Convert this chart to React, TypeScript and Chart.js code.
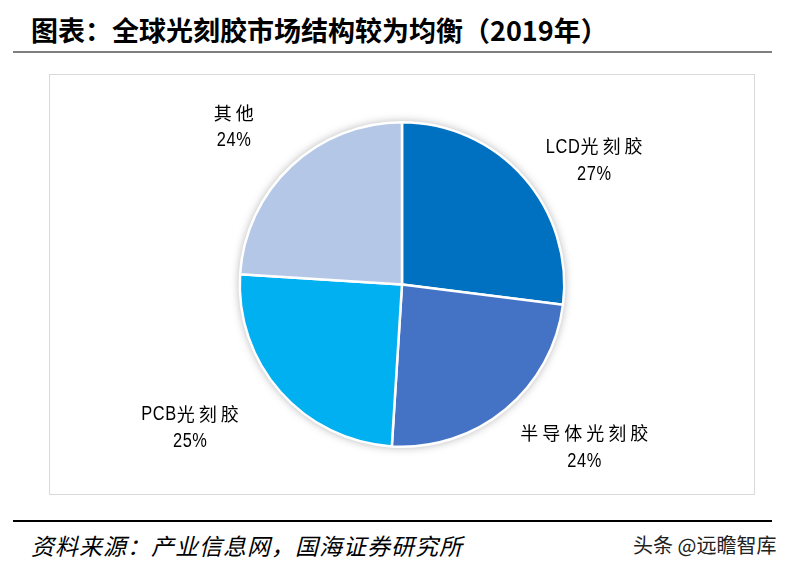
import React, { useEffect, useRef } from "react";
import { Chart, registerables } from "chart.js";

Chart.register(...registerables);

const titleText = "图表：全球光刻胶市场结构较为均衡（2019年）";
const sourceText = "资料来源：产业信息网，国海证券研究所";
const watermarkText = "头条 @远瞻智库";

const categories = ["LCD光刻胶", "半导体光刻胶", "PCB光刻胶", "其他"];
const shares = [27, 24, 25, 24];
const sliceColors = ["#0070C0", "#4472C4", "#00B0F0", "#B4C7E7"];

// label block centre, relative to pie centre, in units of the pie radius
const LABEL_OFFSETS: [number, number][] = [
  [1.184, -0.77],
  [1.123, 1.0],
  [-1.307, 0.88],
  [-1.037, -0.975],
];

function isCJK(ch: string) {
  return /[\u3000-\u9fff\uff00-\uffef]/.test(ch);
}

function drawMixed(ctx: CanvasRenderingContext2D, text: string, cx: number, cy: number) {
  const cjkFont = "18px 'Noto Sans CJK SC', sans-serif";
  const latFont = "20px 'Liberation Sans', Arial, sans-serif";
  const SX = 0.82;
  const parts = [...text].map((ch) => {
    const cjk = isCJK(ch);
    ctx.font = cjk ? cjkFont : latFont;
    const w = ctx.measureText(ch).width * (cjk ? 1 : SX);
    return { ch, cjk, w, gap: cjk ? 4 : 0.6 };
  });
  let total = 0;
  parts.forEach((p, i) => {
    total += p.w + (i < parts.length - 1 ? p.gap : 0);
  });
  let x = cx - total / 2;
  ctx.save();
  ctx.fillStyle = "#000";
  ctx.textBaseline = "middle";
  ctx.textAlign = "left";
  for (const p of parts) {
    if (p.cjk) {
      ctx.font = cjkFont;
      ctx.fillText(p.ch, x, cy);
    } else {
      ctx.font = latFont;
      ctx.save();
      ctx.translate(x, cy);
      ctx.scale(SX, 1);
      ctx.fillText(p.ch, 0, 1);
      ctx.restore();
    }
    x += p.w + p.gap;
  }
  ctx.restore();
}

const shadowPlugin = {
  id: "pieShadow",
  beforeDatasetsDraw(chart: any) {
    const arc = chart.getDatasetMeta(0).data[0];
    if (!arc) return;
    const { x, y, outerRadius } = arc.getProps(["x", "y", "outerRadius"], true);
    const ctx = chart.ctx;
    ctx.save();
    ctx.shadowColor = "rgba(0,0,0,0.35)";
    ctx.shadowBlur = 10;
    ctx.fillStyle = "#fff";
    ctx.beginPath();
    ctx.arc(x, y, outerRadius, 0, Math.PI * 2);
    ctx.fill();
    ctx.restore();
  },
};

const labelPlugin = {
  id: "pieLabels",
  afterDatasetsDraw(chart: any) {
    const meta = chart.getDatasetMeta(0);
    const ctx = chart.ctx;
    const total = shares.reduce((a, b) => a + b, 0);
    meta.data.forEach((arc: any, i: number) => {
      const { x, y, outerRadius } = arc.getProps(["x", "y", "outerRadius"], true);
      const [ox, oy] = LABEL_OFFSETS[i];
      const cx = x + ox * outerRadius;
      const cy = y + oy * outerRadius;
      const pct = Math.round((shares[i] / total) * 100) + "%";
      drawMixed(ctx, categories[i], cx, cy - 13.5);
      drawMixed(ctx, pct, cx, cy + 13.5);
    });
  },
};

const CW = 704;
const CH = 419;

export default function App() {
  const ref = useRef<HTMLCanvasElement | null>(null);
  useEffect(() => {
    if (!ref.current) return;
    const chart = new Chart(ref.current, {
      type: "pie",
      data: {
        labels: categories,
        datasets: [
          {
            data: shares,
            backgroundColor: sliceColors,
            borderColor: "#ffffff",
            borderWidth: 2.5,
          },
        ],
      },
      options: {
        responsive: false,
        maintainAspectRatio: false,
        animation: false,
        devicePixelRatio: 1,
        layout: { padding: 46 },
        plugins: {
          legend: { display: false },
          tooltip: { enabled: false },
        },
      },
      plugins: [shadowPlugin, labelPlugin],
    });
    return () => chart.destroy();
  }, []);

  return (
    <div
      style={{
        position: "absolute",
        left: 0,
        top: 0,
        width: 794,
        height: 570,
        background: "#fff",
        overflow: "hidden",
        fontFamily: "'Noto Sans CJK SC', sans-serif",
      }}
    >
      <div
        style={{
          position: "absolute",
          left: 31,
          top: 13,
          fontSize: 27,
          lineHeight: "34px",
          fontWeight: 700,
          color: "#000",
          whiteSpace: "nowrap",
        }}
      >
        {titleText}
      </div>
      <div style={{ position: "absolute", left: 13, top: 51, width: 759, height: 2, background: "#7f7f7f" }} />
      <div
        style={{
          position: "absolute",
          left: 49,
          top: 74,
          width: 706,
          height: 421,
          boxSizing: "border-box",
          border: "1px solid #d9d9d9",
        }}
      >
        <canvas ref={ref} width={CW} height={CH} style={{ display: "block", width: CW, height: CH }} />
      </div>
      <div style={{ position: "absolute", left: 13, top: 520, width: 759, height: 2, background: "#000" }} />
      <div
        style={{
          position: "absolute",
          left: 31,
          top: 530,
          fontSize: 23,
          lineHeight: "30px",
          fontStyle: "italic",
          letterSpacing: 1,
          color: "#000",
          whiteSpace: "nowrap",
        }}
      >
        {sourceText}
      </div>
      <div
        style={{
          position: "absolute",
          left: 633,
          top: 531,
          fontSize: 20,
          lineHeight: "28px",
          color: "#222",
          whiteSpace: "nowrap",
        }}
      >
        {watermarkText}
      </div>
    </div>
  );
}
